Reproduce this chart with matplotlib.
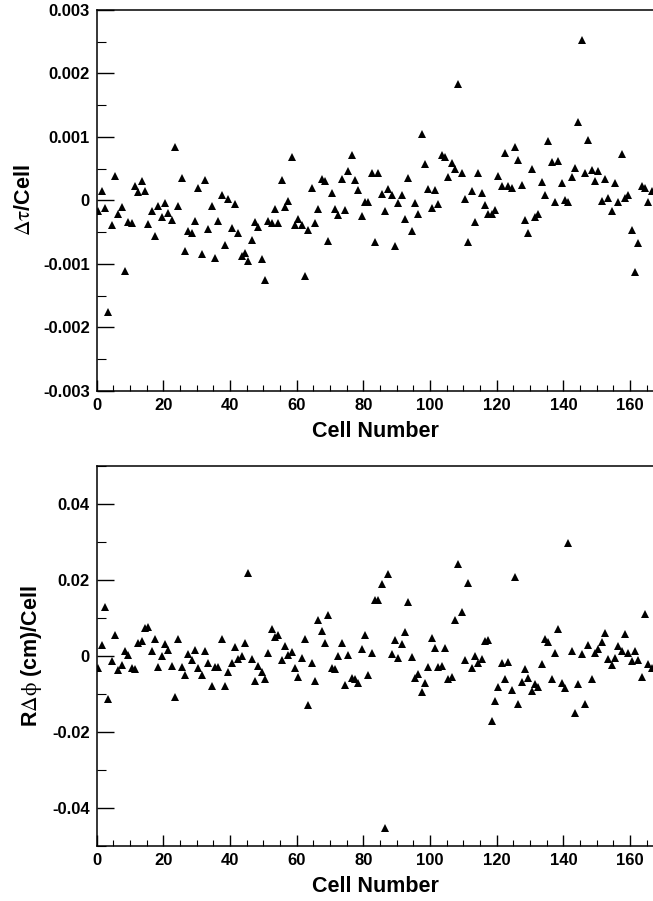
import numpy as np
import matplotlib
matplotlib.use("Agg")
import matplotlib.pyplot as plt
from matplotlib.ticker import MultipleLocator, FuncFormatter

plt.rcParams['font.family'] = ['Liberation Sans', 'DejaVu Sans']
plt.rcParams['mathtext.fontset'] = 'stix'
plt.rcParams['axes.unicode_minus'] = False

# Top panel: delta tau per cell (units of 1e-3)
dtau_e3 = [-0.16, 0.15, -0.12, -1.76, -0.39, 0.38, -0.21, -0.11, -1.12, -0.34,
           -0.36, 0.22, 0.13, 0.30, 0.15, -0.37, -0.17, -0.56, -0.09, -0.27,
           -0.04, -0.20, -0.31, 0.84, -0.09, 0.36, -0.80, -0.49, -0.51, -0.33,
           0.19, -0.84, 0.32, -0.45, -0.09, -0.91, -0.32, 0.09, -0.71, 0.02,
           -0.43, -0.06, -0.52, -0.87, -0.83, -0.95, -0.63, -0.34, -0.42, -0.93,
           -1.25, -0.33, -0.35, -0.14, -0.35, 0.32, -0.11, -0.01, 0.68, -0.39,
           -0.30, -0.39, -1.19, -0.47, 0.19, -0.35, -0.13, 0.33, 0.30, -0.64,
           0.12, -0.13, -0.23, 0.34, -0.15, 0.46, 0.71, 0.32, 0.16, -0.25,
           -0.02, -0.02, 0.43, -0.65, 0.43, 0.10,
           -0.17, 0.18, 0.09, -0.72, -0.04, 0.09, -0.29, 0.36, -0.48, -0.04,
           -0.22, 1.04, 0.57, 0.18, -0.12, 0.17, -0.05, 0.72, 0.68, 0.37,
           0.59, 0.50, 1.83, 0.43, 0.02, -0.66, 0.15, -0.34, 0.43, 0.11,
           -0.08, -0.22, -0.22, -0.15, 0.38, 0.23, 0.75, 0.23, 0.20, 0.84,
           0.63, 0.24, -0.31, -0.51, 0.49, -0.26, -0.22, 0.29, 0.08, 0.93,
           0.61, -0.03, 0.62, 0.27, 0.01, -0.02, 0.37, 0.51, 1.23, 2.52,
           0.43, 0.95, 0.48, 0.31, 0.47, -0.01, 0.33, 0.04, -0.16, 0.28,
           -0.02, 0.73, 0.04, 0.09, -0.47, -1.13, -0.67, 0.22, 0.19, -0.03, 0.14]

# Bottom panel: R delta phi per cell (units of 1e-2 cm)
rdphi_e2 = [-0.32, 0.29, 1.30, -1.13, -0.12, 0.55, -0.37, -0.24, 0.14, 0.03,
            -0.32, -0.34, 0.35, 0.40, 0.75, 0.77, 0.13, 0.46, -0.30, 0.01,
            0.31, 0.17, -0.27, -1.08, 0.45, -0.29, -0.50, 0.04, -0.11, 0.17,
            -0.32, -0.51, 0.14, -0.19, -0.78, -0.29, -0.28, 0.44, -0.80, -0.43,
            -0.18, 0.25, -0.08, 0.01, 0.35, 2.18, -0.09, -0.65, -0.25, -0.42,
            -0.61, 0.08, 0.71, 0.51, 0.54, -0.10, 0.27, 0.03, 0.10, -0.32,
            -0.56, -0.04, 0.44, -1.28, -0.19, -0.66, 0.96, 0.67, 0.35, 1.09,
            -0.32, -0.33, -0.01, 0.35, -0.75, 0.03, -0.59, -0.60, -0.70, 0.19,
            0.54, -0.50, 0.09, 1.47, 1.47,
            1.89, -4.52, 2.16, 0.04, 0.41, -0.06, 0.32, 0.63, 1.42, -0.02,
            -0.59, -0.48, -0.94, -0.72, -0.30, 0.48, 0.21, -0.28, -0.27, 0.21,
            -0.60, -0.55, 0.96, 2.41, 1.15, -0.11, 1.91, -0.32, 0.01, -0.19,
            -0.07, 0.39, 0.41, -1.71, -1.18, -0.82, -0.18, -0.60, -0.15, -0.90,
            2.09, -1.27, -0.68, -0.34, -0.57, -0.91, -0.74, -0.82, -0.22, 0.46,
            0.38, -0.61, 0.09, 0.71, -0.71, -0.83, 2.98, 0.13, -1.51, -0.74,
            0.04, -1.27, 0.30, -0.61, 0.07, 0.19, 0.36, 0.60, -0.08, -0.24,
            -0.04, 0.26, 0.14, 0.59, 0.07, -0.12, 0.13, -0.11, -0.55, 1.10,
            -0.21, -0.32]

cells = np.arange(len(dtau_e3)) + 0.5
dtau = np.array(dtau_e3) * 1e-3
rdphi = np.array(rdphi_e2) * 1e-2

W, H = 653, 901
fig = plt.figure(figsize=(W / 100, H / 100), dpi=100)

left = 96.7 / W
width = 556.7 / W
ax1 = fig.add_axes([left, (H - 390.7) / H, width, 380.7 / H])
ax2 = fig.add_axes([left, (H - 846) / H, width, 380 / H])

fmt = FuncFormatter(lambda v, p: '0' if abs(v) < 1e-12 else ('%g' % v))

for ax, y, ylim, major, minor, ylabel in [
        (ax1, dtau, (-0.003, 0.003), 0.001, 0.0005, r'$\mathrm{\Delta\tau}$/Cell'),
        (ax2, rdphi, (-0.05, 0.05), 0.02, 0.01, r'R$\mathrm{\Delta\phi}$ (cm)/Cell')]:
    ax.plot(cells, y, linestyle='none', marker='^', markersize=5.6,
            color='black', markeredgewidth=0, clip_on=True)
    ax.set_xlim(0, 167)
    ax.set_ylim(*ylim)
    ax.xaxis.set_major_locator(MultipleLocator(20))
    ax.xaxis.set_minor_locator(MultipleLocator(5))
    ax.yaxis.set_major_locator(MultipleLocator(major))
    ax.yaxis.set_minor_locator(MultipleLocator(minor))
    ax.yaxis.set_major_formatter(fmt)
    ax.spines['right'].set_visible(False)
    for s in ['left', 'bottom', 'top']:
        ax.spines[s].set_linewidth(1.1)
    ax.tick_params(axis='x', which='major', direction='in', length=8, width=1.0,
                   labelsize=12, pad=5, top=False)
    ax.tick_params(axis='x', which='minor', direction='in', length=4.3, width=0.8,
                   top=False)
    ax.tick_params(axis='y', which='major', direction='in', length=12.2, width=1.0,
                   labelsize=12, pad=5, right=False)
    ax.tick_params(axis='y', which='minor', direction='in', length=6.5, width=0.8,
                   right=False)
    for lab in ax.get_xticklabels() + ax.get_yticklabels():
        lab.set_fontweight('bold')
    ax.set_xlabel('Cell Number', fontsize=15.5, fontweight='bold', labelpad=6)
    ax.set_ylabel(ylabel, fontsize=15.5, fontweight='bold', labelpad=6)

fig.savefig('out.png', dpi=100)
